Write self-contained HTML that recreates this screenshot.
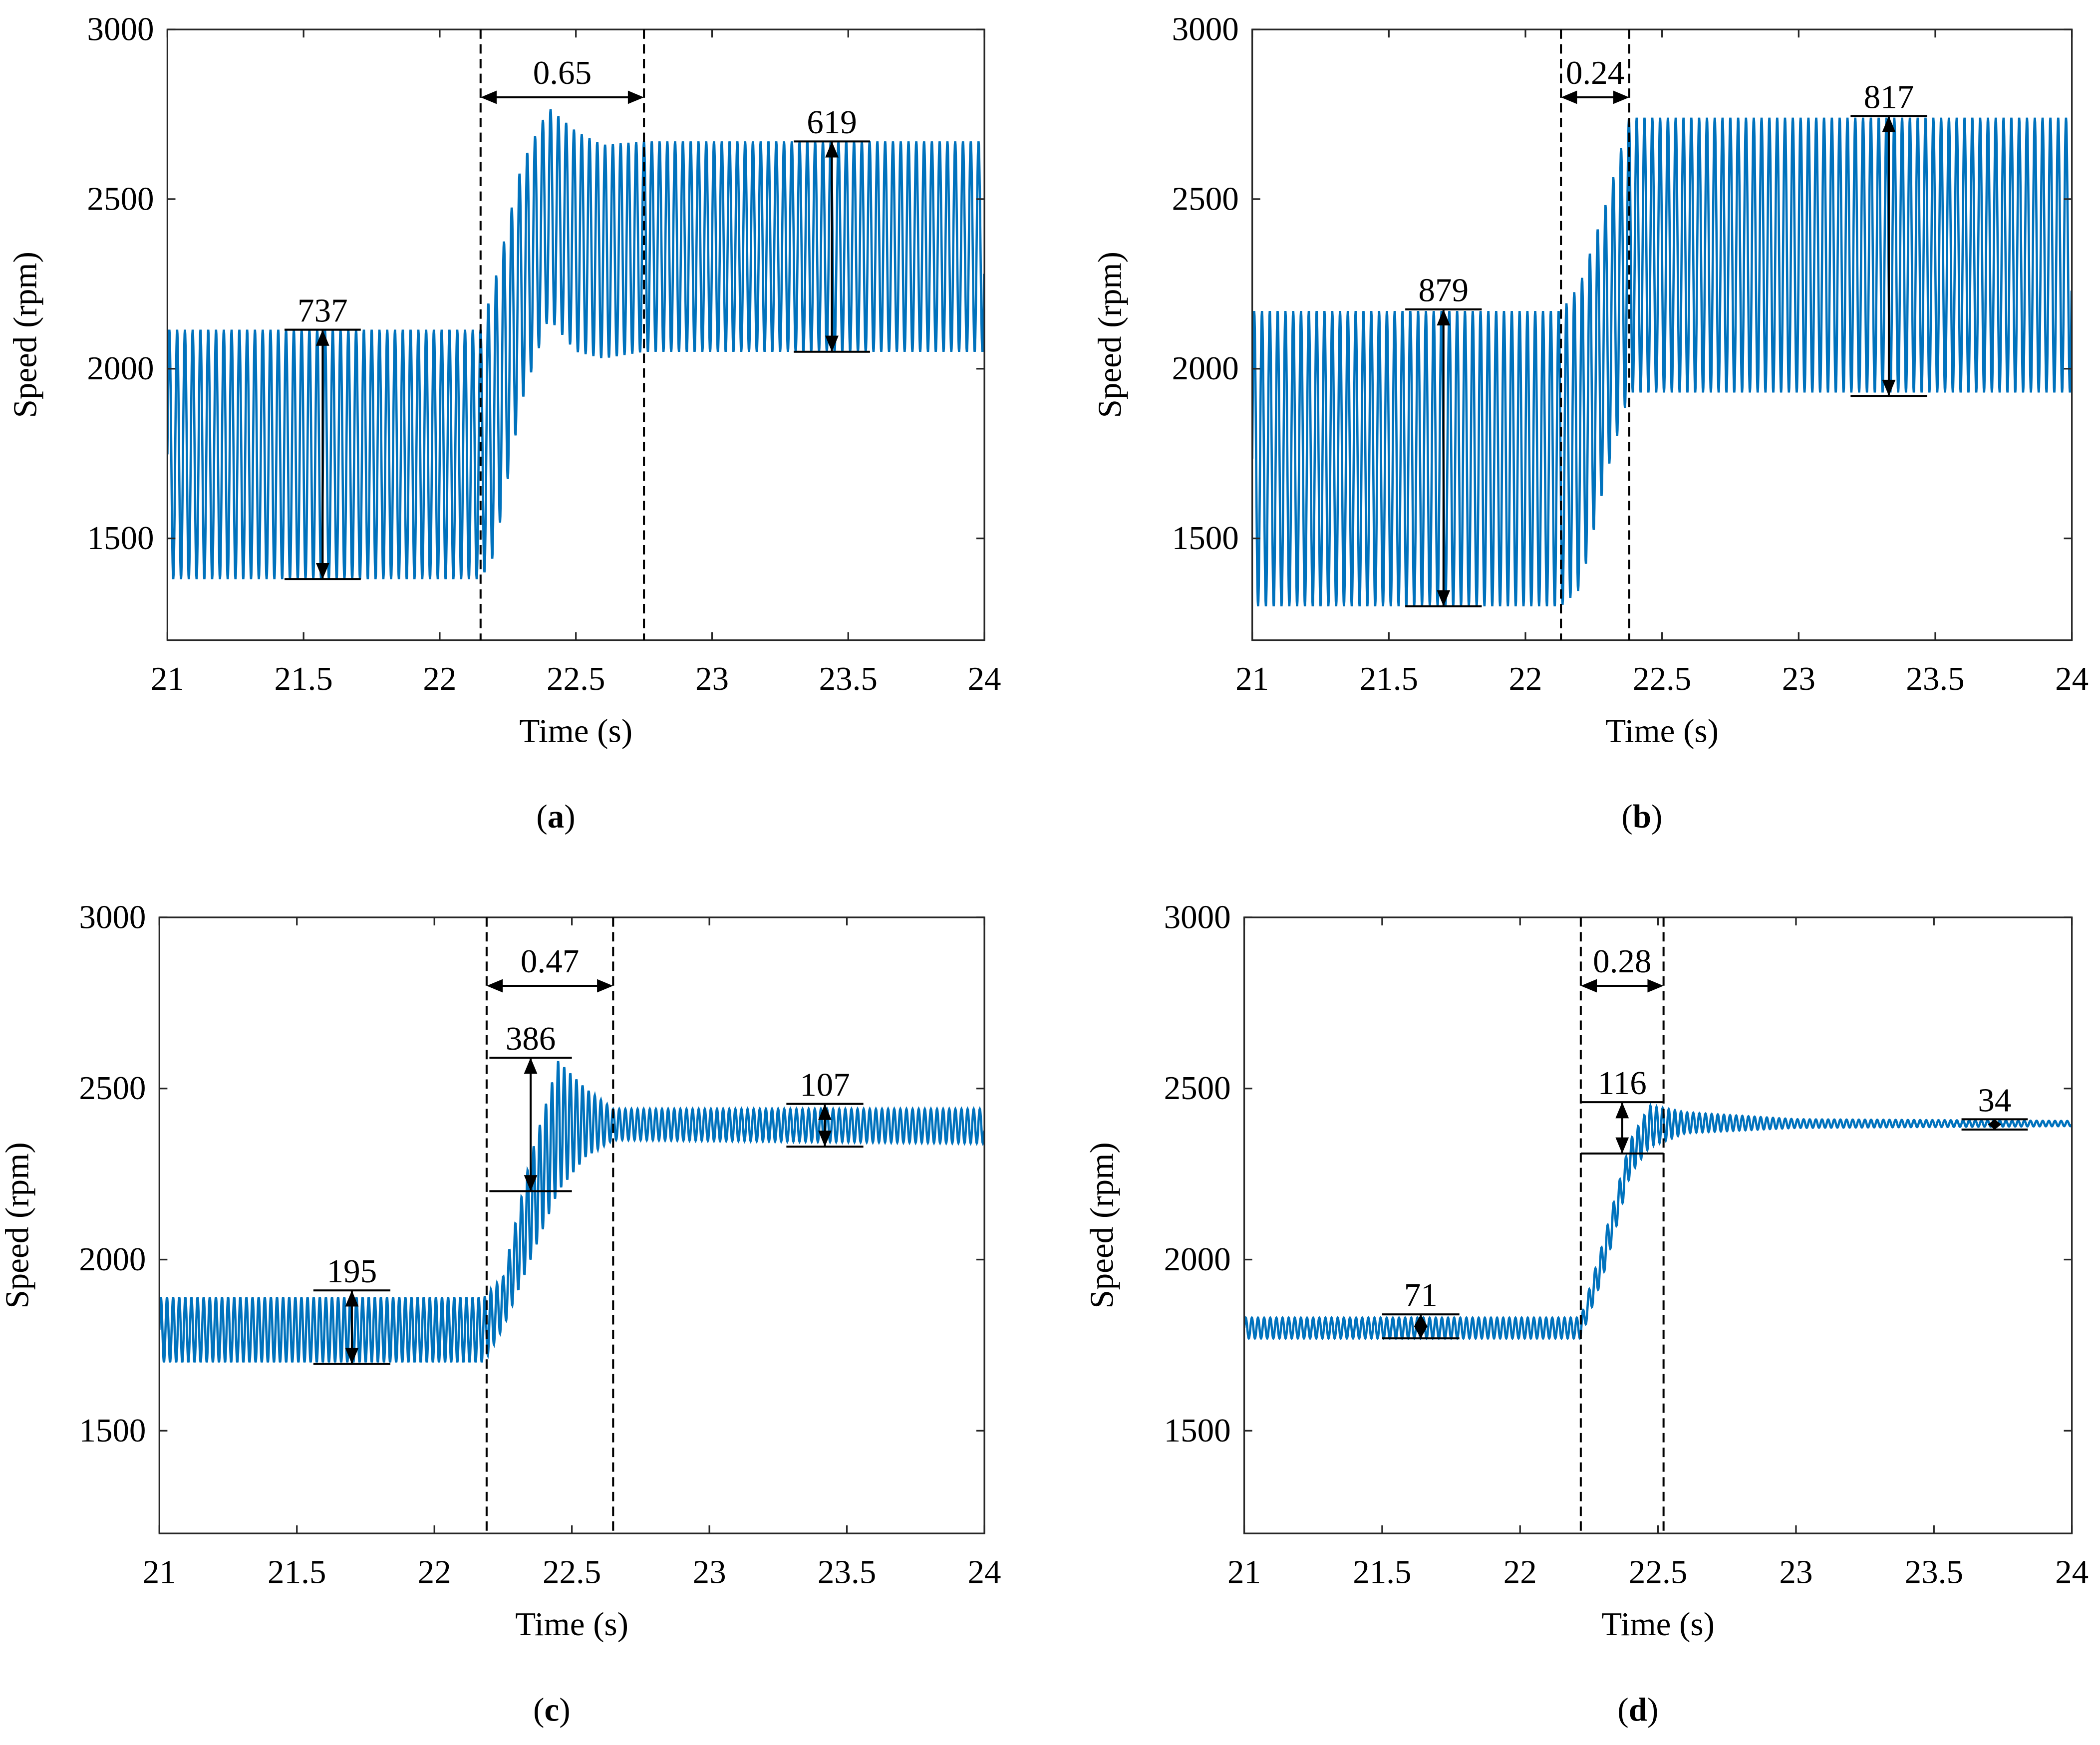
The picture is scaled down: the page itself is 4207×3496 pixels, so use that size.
<!DOCTYPE html>
<html><head><meta charset="utf-8"><style>
html,body{margin:0;padding:0;background:#fff}
svg{display:block}
text{font-family:"Liberation Serif",serif;fill:#000}
</style></head><body>
<svg id="fig" width="4207" height="3496" viewBox="0 0 1568 1303" xmlns="http://www.w3.org/2000/svg" font-family="Liberation Serif, serif"></svg>
<script>
// ---- data ----
const xTicks=[21,21.5,22,22.5,23,23.5,24];
const yTicks=[1500,2000,2500,3000];
const aT=[21,22.15,22.2,22.3,22.4,22.5,22.6,22.75,24];
const aHi=[2115,2115,2250,2600,2770,2700,2660,2670,2670];
const aLo=[1380,1380,1450,1900,2150,2050,2030,2050,2050];
const bT=[21,22.13,22.2,22.3,22.38,24];
const bHi=[2170,2170,2250,2500,2740,2740];
const bLo=[1300,1300,1350,1700,1930,1930];
const cT=[21,22.18,22.25,22.35,22.45,22.55,22.65,24];
const cHi=[1890,1890,1950,2300,2580,2500,2440,2440];
const cLo=[1700,1700,1800,2000,2200,2300,2350,2340];
const dT=[21,22.22,22.3,22.4,22.47,22.6,23,24];
const dHi=[1830,1830,2050,2350,2450,2430,2410,2405];
const dLo=[1770,1770,1950,2250,2330,2370,2385,2390];
const aDash=[22.15,22.75], bDash=[22.13,22.38], cDash=[22.19,22.65], dDash=[22.22,22.52];
const aGap=["0.65"], bGap=["0.24"], cGap=["0.47"], dGap=["0.28"];
const aAnn=[[21.57,2115,1380,0.14,"737"],[23.44,2670,2050,0.14,"619"]];
const bAnn=[[21.7,2175,1300,0.14,"879"],[23.33,2745,1920,0.14,"817"]];
const cAnn=[[21.7,1910,1695,0.14,"195"],[22.35,2590,2200,0.15,"386"],[23.42,2455,2330,0.14,"107"]];
const dAnn=[[21.64,1840,1770,0.14,"71"],[22.37,2460,2310,0.15,"116"],[23.72,2410,2380,0.12,"34"]];
const freqs={a:35,b:35,c:45,d:45};

const NS="http://www.w3.org/2000/svg";
const svg=document.getElementById('fig');
function mk(tag,attrs,parent){const e=document.createElementNS(NS,tag);for(const k in attrs)e.setAttribute(k,attrs[k]);if(tag==='text')e.setAttribute('font-family','Liberation Serif, serif');(parent||svg).appendChild(e);return e;}
function interp(T,V,t){for(let i=0;i<T.length-1;i++){if(t<=T[i+1]){const f=(t-T[i])/(T[i+1]-T[i]);return V[i]+f*(V[i+1]-V[i]);}}return V[V.length-1];}

function panel(id,box,T,Hi,Lo,dash,gap,ann,cap){
  const [x0,x1,y0,y1]=box;
  const X=t=>x0+(t-21)/3*(x1-x0);
  const Y=v=>y1-(v-1200)/1800*(y1-y0);
  const g=mk('g',{});
  
  
  let d='';const f=freqs[id];
  for(let t=21;t<=24;t+=1/(f*24)){
    const hi=interp(T,Hi,t),lo=interp(T,Lo,t);
    const v=(hi+lo)/2+(hi-lo)/2*Math.sin(2*Math.PI*f*t);
    d+=(d?'L':'M')+X(t).toFixed(2)+','+Y(v).toFixed(2);
  }
  const cp=mk('clipPath',{id:'clip'+id},g);mk('rect',{x:x0,y:y0,width:x1-x0,height:y1-y0},cp);
  const ln=mk('path',{d:d,fill:'none',stroke:'#0072BD','stroke-width':1.7,'clip-path':'url(#clip'+id+')'},g);
  
  
  const r=mk('rect',{x:x0,y:y0,width:x1-x0,height:y1-y0,fill:'none',stroke:'#262626','stroke-width':1.2},g);
  
  
  xTicks.forEach(t=>{
    mk('line',{x1:X(t),x2:X(t),y1:y1,y2:y1-6,stroke:'#262626','stroke-width':1.2},g);
    mk('line',{x1:X(t),x2:X(t),y1:y0,y2:y0+6,stroke:'#262626','stroke-width':1.2},g);
    const tx=mk('text',{x:X(t),y:y1+37,'font-size':25,'text-anchor':'middle'},g);tx.textContent=t;
    
    
  });
  yTicks.forEach(v=>{
    mk('line',{x1:x0,x2:x0+6,y1:Y(v),y2:Y(v),stroke:'#262626','stroke-width':1.2},g);
    mk('line',{x1:x1,x2:x1-6,y1:Y(v),y2:Y(v),stroke:'#262626','stroke-width':1.2},g);
    const tx=mk('text',{x:x0-10,y:Y(v)+8,'font-size':25,'text-anchor':'end'},g);tx.textContent=v;
    
    
  });
  const xt=mk('text',{x:(x0+x1)/2,y:y1+76,'font-size':25,'text-anchor':'middle'},g);xt.textContent='Time (s)';
  
  
  const yt=mk('text',{x:0,y:0,'font-size':25,'text-anchor':'middle',transform:`translate(${x0-98},${(y0+y1)/2}) rotate(-90)`},g);yt.textContent='Speed (rpm)';
  
  
  dash.forEach(t=>{const l=mk('line',{x1:X(t),x2:X(t),y1:y0,y2:y1,stroke:'#000','stroke-width':1.5,'stroke-dasharray':'7,4'},g);
    
    });
  const ya=Y(2800);
  const ga=mk('g',{},g);
  
  
  mk('line',{x1:X(dash[0])+2,x2:X(dash[1])-2,y1:ya,y2:ya,stroke:'#000','stroke-width':1.5},ga);
  mk('path',{d:`M${X(dash[0])},${ya}l12,-5v10z M${X(dash[1])},${ya}l-12,-5v10z`,fill:'#000'},ga);
  const gt=mk('text',{x:(X(dash[0])+X(dash[1]))/2,y:ya-10,'font-size':25,'text-anchor':'middle'},ga);gt.textContent=gap[0];
  ann.forEach(a=>{
    const [t,hi,lo,hw,lab]=a;const ag=mk('g',{},g);
    
    
    const yh=Y(hi),yl=Y(lo),xc=X(t);
    mk('line',{x1:X(t-hw),x2:X(t+hw),y1:yh,y2:yh,stroke:'#000','stroke-width':1.5},ag);
    mk('line',{x1:X(t-hw),x2:X(t+hw),y1:yl,y2:yl,stroke:'#000','stroke-width':1.5},ag);
    mk('line',{x1:xc,x2:xc,y1:yh,y2:yl,stroke:'#000','stroke-width':1.5},ag);
    const ah=Math.min(12,(yl-yh)/2);
    mk('path',{d:`M${xc},${yh}l-5,${ah}h10z M${xc},${yl}l-5,${-ah}h10z`,fill:'#000'},ag);
    const tx=mk('text',{x:xc,y:yh-6,'font-size':25,'text-anchor':'middle'},ag);tx.textContent=lab;
  });
  const c=mk('text',{x:(x0+x1)/2-15,y:y1+140,'font-size':25,'text-anchor':'middle'},g);
  c.innerHTML='(<tspan font-weight="bold">'+cap+'</tspan>)';
  
  
}
panel('a',[125,735,22,478],aT,aHi,aLo,aDash,aGap,aAnn,'a');
panel('b',[935,1547,22,478],bT,bHi,bLo,bDash,bGap,bAnn,'b');
panel('c',[119,735,685,1145],cT,cHi,cLo,cDash,cGap,cAnn,'c');
panel('d',[929,1547,685,1145],dT,dHi,dLo,dDash,dGap,dAnn,'d');
</script>
</body></html>
